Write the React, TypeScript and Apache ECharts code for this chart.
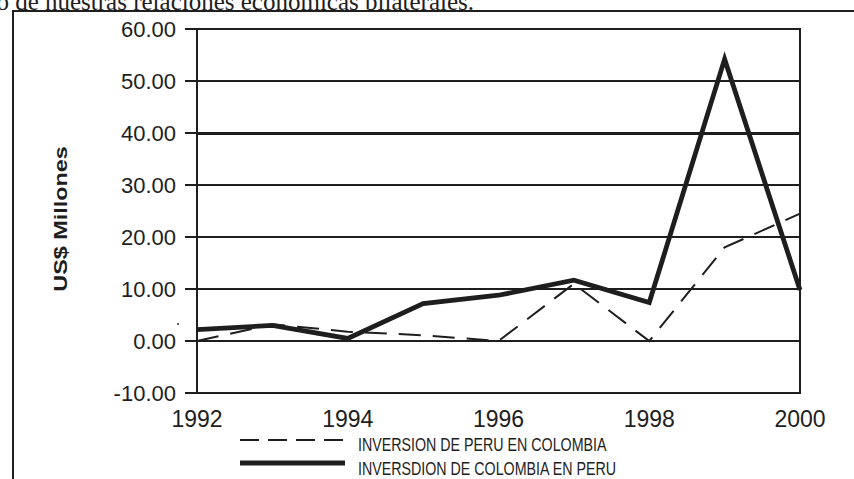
import React, { useEffect, useRef } from "react";
import * as echarts from "echarts";

const years = ["1992", "1993", "1994", "1995", "1996", "1997", "1998", "1999", "2000"];
const peruEnColombia = [0, 3.2, 1.8, 1.1, 0, 11.0, 0, 18.0, 24.5];
const colombiaEnPeru = [2.2, 3.0, 0.5, 7.2, 8.8, 11.7, 7.4, 54.2, 9.8];
const seriesNames = ["INVERSION DE PERU EN COLOMBIA", "INVERSDION DE COLOMBIA EN PERU"];
const yTitle = "US$ Millones";
const topText = "o de nuestras relaciones económicas bilaterales.";

const INK = "#1e1e1e";

export default function App() {
  const ref = useRef<HTMLDivElement>(null);
  useEffect(() => {
    if (!ref.current) return;
    const chart = echarts.init(ref.current, null, { renderer: "svg" });
    chart.setOption({
      animation: false,
      backgroundColor: "#ffffff",
      grid: {
        left: 197,
        right: 54,
        top: 29,
        bottom: 86,
        show: true,
        borderColor: INK,
        borderWidth: 2,
        backgroundColor: "transparent",
      },
      xAxis: {
        type: "category",
        data: years,
        boundaryGap: false,
        axisLine: { show: true, lineStyle: { color: INK, width: 2 } },
        axisTick: { show: false },
        axisLabel: {
          interval: 1,
          color: INK,
          fontFamily: "Liberation Sans",
          fontSize: 23,
          margin: 14,
        },
        splitLine: { show: false },
      },
      yAxis: {
        type: "value",
        min: -10,
        max: 60,
        interval: 10,
        axisLine: { show: true, lineStyle: { color: INK, width: 2 } },
        axisTick: { show: true, inside: false, length: 12, lineStyle: { color: INK, width: 2 } },
        axisLabel: {
          color: INK,
          fontFamily: "Liberation Sans",
          fontSize: 22,
          margin: 21,
          formatter: (v: number) => v.toFixed(2),
        },
        splitLine: { show: true, lineStyle: { color: INK, width: 2 } },
      },
      series: [
        {
          name: seriesNames[0],
          type: "line",
          data: peruEnColombia,
          symbol: "none",
          lineStyle: { color: INK, width: 2, type: [22, 12], join: "miter", cap: "butt" },
          z: 3,
        },
        {
          name: seriesNames[1],
          type: "line",
          data: colombiaEnPeru,
          symbol: "none",
          lineStyle: { color: INK, width: 4.8, type: "solid", join: "miter", cap: "butt" },
          z: 4,
          markLine: {
            silent: true,
            symbol: "none",
            label: { show: false },
            lineStyle: { color: INK, width: 3, type: "solid" },
            data: [{ yAxis: 40 }],
            z: 2,
          },
        },
      ],
      graphic: [
        {
          type: "rect",
          shape: { x: 13, y: 11, width: 900, height: 520 },
          style: { fill: "none", stroke: INK, lineWidth: 2 },
          silent: true,
        },
        {
          type: "text",
          x: 474,
          y: 1,
          style: {
            text: topText,
            fontFamily: "Liberation Serif",
            fontSize: 25,
            fill: INK,
            align: "right",
            verticalAlign: "middle",
          },
        },
        {
          type: "text",
          x: 61,
          y: 219,
          rotation: Math.PI / 2,
          scaleX: 1.3,
          style: {
            text: yTitle,
            fontFamily: "Liberation Sans",
            fontWeight: "bold",
            fontSize: 18,
            fill: INK,
            align: "center",
            verticalAlign: "middle",
          },
        },
        {
          type: "circle",
          shape: { cx: 178, cy: 324, r: 0.9 },
          style: { fill: INK },
        },
        {
          type: "line",
          shape: { x1: 240, y1: 440, x2: 343, y2: 440 },
          style: { stroke: INK, lineWidth: 2, lineDash: [19, 9] },
        },
        {
          type: "line",
          shape: { x1: 240, y1: 463, x2: 345, y2: 463 },
          style: { stroke: INK, lineWidth: 5 },
        },
        {
          type: "text",
          x: 358,
          y: 445,
          scaleX: 0.75,
          style: {
            text: seriesNames[0],
            fontFamily: "Liberation Sans",
            fontSize: 19,
            fill: INK,
            align: "left",
            verticalAlign: "middle",
          },
        },
        {
          type: "text",
          x: 358,
          y: 469,
          scaleX: 0.75,
          style: {
            text: seriesNames[1],
            fontFamily: "Liberation Sans",
            fontSize: 19,
            fill: INK,
            align: "left",
            verticalAlign: "middle",
          },
        },
      ],
    });
    return () => chart.dispose();
  }, []);
  return (
    <div
      ref={ref}
      style={{ position: "fixed", left: 0, top: 0, width: 854, height: 479, background: "#fff" }}
    />
  );
}
